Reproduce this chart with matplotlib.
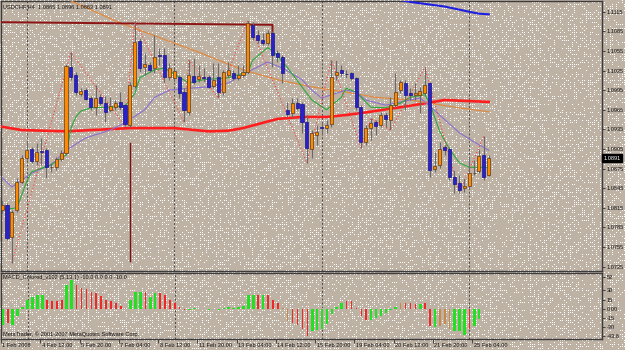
import numpy as np
import matplotlib
matplotlib.use("Agg")
import matplotlib.pyplot as plt
import matplotlib.transforms as mtransforms

# ---------------- data ----------------
header_text = "USDCHF,H4  1.0865 1.0896 1.0863 1.0891"
macd_text = "MACD_Colored_v102 (5,13,1) -10.0 0.0 0.0 -10.0"
copyright_text = "MetaTrader, \u00a9 2001-2007 MetaQuotes Software Corp."
last_price = 1.0891

opens = [1.0812, 1.0819, 1.0770, 1.0812, 1.0855, 1.0891, 1.0905, 1.0887, 1.0902, 1.0903,
         1.0877, 1.0878, 1.0890, 1.0899, 1.1030, 1.1018, 1.0989, 1.0995, 1.0983, 1.0969,
         1.0985, 1.0975, 1.0965, 1.0969, 1.0977, 1.0972, 1.0942, 1.1001, 1.1070, 1.1030,
         1.1033, 1.1029, 1.1049, 1.1049, 1.1015, 1.1014, 1.1015, 1.0992, 1.0962, 1.1017,
         1.1012, 1.1015, 1.1015, 1.1001, 1.1015, 1.0992, 1.1018, 1.1021, 1.1014, 1.1018,
         1.1023, 1.1095, 1.1079, 1.1072, 1.1067, 1.1082, 1.1052, 1.1046, 1.0965, 1.0960,
         1.0975, 1.0974, 1.0946, 1.0905, 1.0926, 1.0939, 1.0937, 1.0943, 1.1018, 1.1026,
         1.1020, 1.1021, 1.1014, 1.0969, 1.0916, 1.0937, 1.0946, 1.0942, 1.0957, 1.0949,
         1.0972, 1.0995, 1.1006, 1.0991, 1.0988, 1.0988, 1.0991, 1.1006, 1.0874, 1.0881,
         1.0908, 1.0905, 1.0862, 1.0853, 1.0845, 1.0848, 1.0868, 1.0871, 1.0896, 1.0865]
highs = [1.0827, 1.0822, 1.0812, 1.0861, 1.0896, 1.0917, 1.0908, 1.0914, 1.0922, 1.0906,
         1.0884, 1.0893, 1.0903, 1.1035, 1.1053, 1.1023, 1.0998, 1.0998, 1.0986, 1.1003,
         1.0989, 1.0986, 1.0985, 1.0980, 1.0992, 1.0974, 1.1008, 1.1101, 1.1075, 1.1052,
         1.1038, 1.1079, 1.1060, 1.1060, 1.1037, 1.1029, 1.1018, 1.0998, 1.1041, 1.1044,
         1.1034, 1.1029, 1.1018, 1.1037, 1.1037, 1.1026, 1.1038, 1.1026, 1.1034, 1.1034,
         1.1102, 1.1099, 1.1087, 1.1082, 1.1087, 1.1085, 1.1056, 1.1049, 1.0977, 1.0983,
         1.0983, 1.0977, 1.0957, 1.0934, 1.0942, 1.0946, 1.0949, 1.1041, 1.1041, 1.1034,
         1.1026, 1.1023, 1.1015, 1.0972, 1.0942, 1.0952, 1.0949, 1.0962, 1.0962, 1.0985,
         1.1021, 1.1011, 1.1011, 1.0998, 1.1006, 1.1000, 1.1030, 1.1008, 1.0900, 1.0916,
         1.0911, 1.0908, 1.0873, 1.0865, 1.0861, 1.0893, 1.0888, 1.0905, 1.0925, 1.0896]
lows = [1.0807, 1.0766, 1.0731, 1.0809, 1.0852, 1.0888, 1.0884, 1.0881, 1.0881, 1.0861,
        1.0870, 1.0873, 1.0887, 1.0896, 1.1011, 1.0988, 1.0986, 1.0980, 1.0965, 1.0957,
        1.0972, 1.0946, 1.0962, 1.0965, 1.0965, 1.0940, 1.0939, 1.0998, 1.1023, 1.1018,
        1.1023, 1.1021, 1.1033, 1.1008, 1.1011, 1.1008, 1.0983, 1.0946, 1.0957, 1.1004,
        1.1008, 1.1008, 1.0998, 1.0998, 1.0983, 1.0988, 1.1015, 1.1011, 1.1011, 1.1015,
        1.1020, 1.1072, 1.1067, 1.1064, 1.1064, 1.1030, 1.1038, 1.1006, 1.0954, 1.0954,
        1.0965, 1.0929, 1.0884, 1.0891, 1.0911, 1.0926, 1.0929, 1.0939, 1.1011, 1.1017,
        1.1014, 1.1011, 1.0965, 1.0907, 1.0911, 1.0919, 1.0926, 1.0939, 1.0939, 1.0934,
        1.0969, 1.0991, 1.0965, 1.0980, 1.0980, 1.0960, 1.0988, 1.0862, 1.0870, 1.0876,
        1.0896, 1.0858, 1.0838, 1.0838, 1.0839, 1.0844, 1.0865, 1.0868, 1.0858, 1.0863]
closes = [1.0819, 1.0769, 1.0809, 1.0855, 1.0891, 1.0903, 1.0887, 1.0900, 1.0900, 1.0878,
          1.0878, 1.0890, 1.0899, 1.1032, 1.1015, 1.0992, 1.0994, 1.0982, 1.0969, 1.0983,
          1.0975, 1.0962, 1.0971, 1.0975, 1.0969, 1.0943, 1.1003, 1.1069, 1.1029, 1.1035,
          1.1026, 1.1046, 1.1047, 1.1015, 1.1029, 1.1024, 1.0991, 1.0965, 1.1018, 1.1008,
          1.1017, 1.1014, 1.1000, 1.1011, 1.0992, 1.1023, 1.1026, 1.1014, 1.1018, 1.1023,
          1.1098, 1.1076, 1.1072, 1.1067, 1.1082, 1.1049, 1.1046, 1.1021, 1.0959, 1.0975,
          1.0968, 1.0946, 1.0907, 1.0929, 1.0931, 1.0937, 1.0942, 1.1015, 1.1023, 1.1021,
          1.1019, 1.1014, 1.0969, 1.0916, 1.0937, 1.0945, 1.0940, 1.0957, 1.0951, 1.0972,
          1.0992, 1.1007, 1.0988, 1.0988, 1.0991, 1.0994, 1.1003, 1.0873, 1.0879, 1.0905,
          1.0903, 1.0862, 1.0851, 1.0842, 1.0848, 1.0868, 1.0869, 1.0894, 1.0862, 1.0891]

# moving averages: (bar index, price) vertices
green_bars = [0, 3, 5, 6, 10, 13, 14, 15, 16, 18, 22, 25, 27, 28, 31, 33, 36, 38, 41, 46, 50, 51,
              54, 55, 58, 61, 63, 66, 69, 70, 72, 75, 78, 81, 83, 86, 87, 89, 91, 93, 95, 99]
green_vals = [1.0812, 1.0815, 1.0855, 1.0870, 1.0881, 1.0896, 1.0937, 1.0954, 1.0963, 1.0968,
              1.0969, 1.0971, 1.0990, 1.1014, 1.1026, 1.1029, 1.1015, 1.1006, 1.1011, 1.1014,
              1.1023, 1.1041, 1.1060, 1.1056, 1.1030, 1.1000, 1.0980, 1.0965, 1.0984, 1.0998,
              1.0992, 1.0969, 1.0968, 1.0975, 1.0984, 1.0988, 1.0975, 1.0932, 1.0905, 1.0884,
              1.0877, 1.0877]
purple_bars = [0, 2, 6, 10, 13, 17, 22, 25, 29, 31, 34, 38, 42, 46, 50, 54, 57, 61, 63, 65,
               67, 70, 72, 74, 78, 83, 85, 86, 89, 93, 96, 99]
purple_vals = [1.0861, 1.0847, 1.0868, 1.0881, 1.0903, 1.0922, 1.0934, 1.0945, 1.0965, 1.0984,
               1.0995, 1.0998, 1.1000, 1.1006, 1.1023, 1.1038, 1.1029, 1.1011, 1.0995, 1.0983,
               1.0988, 1.0995, 1.0992, 1.0980, 1.0972, 1.0980, 1.0983, 1.0977, 1.0957, 1.0930,
               1.0916, 1.0903]
orange_bars = [10, 24, 40, 49, 56, 63, 70, 76, 83, 87, 93, 99]
orange_vals = [1.1145, 1.1098, 1.1053, 1.1026, 1.1011, 1.1000, 1.0992, 1.0984, 1.0980, 1.0975,
               1.0968, 1.0962]
red_bars = [0, 4, 13, 26, 35, 42, 46, 49, 56, 61, 66, 70, 74, 82, 87, 90, 99]
red_vals = [1.0939, 1.0934, 1.0932, 1.0937, 1.0937, 1.0932, 1.0933, 1.0937, 1.0951, 1.0954,
            1.0954, 1.0957, 1.0961, 1.0970, 1.0976, 1.0980, 1.0977]
blue_bars = [79, 83, 90, 95, 97, 99]
blue_vals = [1.1136, 1.1130, 1.1123, 1.1115, 1.1112, 1.1111]

# zigzag (dotted) pivots
zz_bars = [2, 14, 25, 27, 37, 38, 44, 50, 62, 67, 73, 75, 79, 86, 93, 98]
zz_vals = [1.0731, 1.1053, 1.0940, 1.1101, 1.0946, 1.1041, 1.0983, 1.1102, 1.0884, 1.1041,
           1.0907, 1.0952, 1.0934, 1.1030, 1.0838, 1.0925]

# drawn objects
resist_bars = [-0.3, 55, 55]
resist_vals = [1.1099, 1.1095, 1.1082]
spike_bar = 26
spike_top, spike_bottom = 1.0916, 1.0732

# MACD histogram
macd_vals = [-26, -22, -26, -12, 3, 14, 19, 22, 22, 15,
             12, 12, 14, 38, 46, 38, 33, 32, 27, 25,
             21, 15, 12, 9, 4, 2, 14, 27, 27, 27,
             20, 25, 25, 22, 15, 10, 3, -2, -2, 1,
             0.5, 0.5, -1, 0.5, -1, 2, 3, 2, 3, 4,
             22, 23, 23, 22, 22, 14, 10, 1, -19, -22,
             -26, -32, -43, -36, -34, -32, -25, -9, 3, 10,
             13, 12, 1, -11, -18, -18, -14, -11, -7, -2,
             3, 9, 9, 9, 8, 8, 10, -28, -30, -28,
             -24, -33, -36, -36, -42, -33, -27, -17, -19, -11]
macd_cols = list("grggggggg" "rrrrg" "grrrrrrrrrro" "gggrggrrrrr" "rgggrgrggggg"
                 "gggrgrrr" "oorrrrggggg" "ggrrrrrggggggo" "rrrg" "rrgooogggrgg")

sep_bars = [5, 35, 65, 95]
price_ticks = [1.1115, 1.1085, 1.1055, 1.1025, 1.0995, 1.0965, 1.0935, 1.0905, 1.0875,
               1.0845, 1.0815, 1.0785, 1.0755, 1.0725]
macd_ticks = [52, 30, 15, 0, -15, -30, -43.8]
macd_tick_labels = ["52", "30", "15", "0.00", "-15", "-30", "-43.8"]
date_bars = [0, 8, 16, 24, 32, 40, 48, 56, 64, 72, 80, 88, 96]
date_labels = ["1 Feb 2008", "4 Feb 12:00", "5 Feb 20:00", "7 Feb 04:00", "8 Feb 12:00",
               "11 Feb 20:00", "13 Feb 04:00", "14 Feb 12:00", "15 Feb 20:00",
               "19 Feb 04:00", "20 Feb 12:00", "21 Feb 20:00", "25 Feb 04:00"]

# ---------------- drawing ----------------
plt.rcParams["font.family"] = ["Liberation Sans", "DejaVu Sans"]
FS = 4.1
TXT = "#101010"
W, H = 625, 350

fig = plt.figure(figsize=(6.25, 3.5), dpi=100)

# textured background (tan with scattered white dots, deterministic hash pattern)
bg = fig.add_axes([0, 0, 1, 1], zorder=0)
bg.axis("off")
ii, jj = np.mgrid[0:H, 0:W].astype(np.int64)
hv = ((ii * 73856093) ^ (jj * 19349663) ^ (ii * jj * 83492791)) & 0xFFFF
mask = (hv % 6) == 0
img = np.empty((H, W, 3))
img[:] = np.array([190, 178, 165]) / 255.0
img[mask] = [1.0, 1.0, 1.0]
bg.imshow(img, aspect="auto", interpolation="nearest", extent=(0, W, H, 0))
bg.set_xlim(0, W)
bg.set_ylim(H, 0)

xl = (-0.224, 122.03)
ax = fig.add_axes([1 / W, 1 - 271 / H, 601 / W, 270 / H], zorder=2)
ax2 = fig.add_axes([1 / W, 1 - 339 / H, 601 / W, 66.5 / H], zorder=2)
for a in (ax, ax2):
    a.set_facecolor("none")
    a.set_xlim(*xl)
    for s in a.spines.values():
        s.set_color("#3c3c3c")
        s.set_linewidth(1.0)
    for b in sep_bars:
        a.axvline(b, color="#4a4a4a", lw=0.7, ls=(0, (2, 2)), zorder=1)

ax.set_ylim(1.07184, 1.11314)
ax2.set_ylim(-48.6, 58.8)

x = np.arange(len(opens))
o = np.array(opens); c = np.array(closes); h = np.array(highs); l = np.array(lows)
up = c >= o

# moving averages and drawn objects
ax.plot(red_bars, red_vals, color="#ff1e1e", lw=1.9, zorder=3)
ax.plot(orange_bars, orange_vals, color="#e08a40", lw=0.9, zorder=3)
ax.plot(purple_bars, purple_vals, color="#8a70d0", lw=0.8, zorder=3)
ax.plot(green_bars, green_vals, color="#2aa83a", lw=0.8, zorder=3)
ax.plot(blue_bars, blue_vals, color="#1f1fe0", lw=1.5, zorder=3)
ax.plot(resist_bars, resist_vals, color="#8c1414", lw=1.4, zorder=3)
ax.plot(zz_bars, zz_vals, color="#ff3a3a", lw=0.8, ls=(0, (1, 2)), zorder=3)
ax.vlines(spike_bar, spike_bottom, spike_top, color="#7a1010", lw=1.0, zorder=3)

# candles
ax.vlines(x, l, h, color="#6a6a6a", lw=0.8, zorder=4)
bw = 0.62
body_h = np.maximum(np.abs(c - o), 0.00007)
body_b = np.minimum(o, c)
ax.bar(x[up], body_h[up], bw, bottom=body_b[up], color="#ff8a00",
       edgecolor="#5a3c1e", linewidth=0.5, zorder=5)
ax.bar(x[~up], body_h[~up], bw, bottom=body_b[~up], color="#2a22c8",
       edgecolor="#18148a", linewidth=0.5, zorder=5)

# MACD histogram
col_map = {"g": "#22e022", "r": "#f02828", "o": "#c8884a"}
for k, (v, cc) in enumerate(zip(macd_vals, macd_cols)):
    ax2.bar(k, v, 0.55 if cc == "g" else 0.3, color=col_map[cc], zorder=3)

# axes ticks
ax.yaxis.tick_right()
ax.set_yticks(price_ticks)
ax.set_yticklabels(["%.4f" % t for t in price_ticks])
ax.set_xticks([])
ax.tick_params(axis="y", direction="out", length=2.5, width=0.6, color="#303030",
               labelsize=FS, pad=1, labelcolor=TXT)
ax2.yaxis.tick_right()
ax2.set_yticks(macd_ticks)
ax2.set_yticklabels(macd_tick_labels)
ax2.tick_params(axis="y", direction="out", length=2.5, width=0.6, color="#303030",
                labelsize=FS, pad=1, labelcolor=TXT)
ax2.set_xticks([b - 0.4 for b in date_bars])
ax2.set_xticklabels([])
ax2.tick_params(axis="x", direction="out", length=3, width=0.6, color="#303030")
tr = mtransforms.blended_transform_factory(ax2.transData, ax2.transAxes)
for b, lab in zip(date_bars, date_labels):
    ax2.text(b - 0.1, -0.06, lab, transform=tr, ha="left", va="top",
             fontsize=FS, color=TXT, clip_on=False)

# texts
fig.text(3 / W, 1 - 6.5 / H, header_text, ha="left", va="center", fontsize=FS, color=TXT)
fig.text(3 / W, 1 - 278 / H, macd_text, ha="left", va="center", fontsize=FS, color=TXT)
fig.text(3 / W, 1 - 334 / H, copyright_text, ha="left", va="center", fontsize=FS, color=TXT)

trp = mtransforms.blended_transform_factory(ax.transAxes, ax.transData)
ax.text(1.003, last_price, "%.4f" % last_price, transform=trp, ha="left", va="center",
        fontsize=FS, color="white", clip_on=False, zorder=10,
        bbox=dict(boxstyle="square,pad=0.25", fc="black", ec="black"))

fig.savefig("out.png", dpi=100)
